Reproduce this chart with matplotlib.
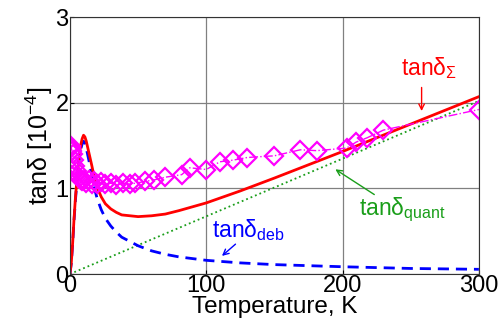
import numpy as np
import matplotlib
matplotlib.use("Agg")
import matplotlib.pyplot as plt

plt.rcParams['font.family'] = ['Liberation Sans', 'DejaVu Sans']
plt.rcParams['mathtext.fontset'] = 'custom'
plt.rcParams['mathtext.rm'] = 'Liberation Sans'
plt.rcParams['mathtext.it'] = 'Liberation Sans:italic'
plt.rcParams['mathtext.sf'] = 'Liberation Sans'

# ---------------- data ----------------
T_deb = [0, 1, 2, 3, 4, 5, 6, 7, 8, 9, 10, 11, 12, 14, 16, 18, 20, 23, 26, 30,
         34, 38, 44, 50, 60, 70, 80, 100, 125, 150, 200, 250, 300]
tan_deb = [0, 0.12, 0.35, 0.62, 0.85, 1.05, 1.22, 1.36, 1.46, 1.52, 1.55, 1.53, 1.47,
           1.32, 1.16, 1.0, 0.88, 0.75, 0.65, 0.56, 0.49, 0.43, 0.38, 0.33, 0.27,
           0.23, 0.2, 0.16, 0.13, 0.11, 0.085, 0.065, 0.055]

T_quant = [0, 300]
tan_quant = [0, 2.02]

T_sum = [0, 1, 2, 3, 4, 5, 6, 7, 8, 9, 10, 11, 12, 14, 16, 18, 20, 23, 26, 30,
         34, 38, 44, 50, 60, 70, 80, 100, 125, 150, 200, 250, 300]
tan_sum = [0, 0.13, 0.36, 0.64, 0.88, 1.08, 1.26, 1.41, 1.51, 1.58, 1.62, 1.6, 1.55,
           1.41, 1.27, 1.12, 1.01, 0.9, 0.82, 0.76, 0.72, 0.69, 0.68, 0.67, 0.68,
           0.7, 0.74, 0.83, 0.97, 1.12, 1.43, 1.75, 2.07]

T_meas = [0.5, 1, 1.5, 2, 3, 4, 5, 6, 7, 8, 9, 10, 12, 14, 16, 18, 20, 23, 26, 30,
          34, 39, 44, 48, 55, 62, 70, 82, 88, 100, 110, 120, 130, 150, 169, 181,
          203, 210, 218, 230, 300]
tan_meas = [1.5, 1.47, 1.44, 1.4, 1.33, 1.26, 1.2, 1.15, 1.12, 1.1, 1.08, 1.1, 1.06,
            1.1, 1.05, 1.08, 1.05, 1.07, 1.05, 1.06, 1.04, 1.06, 1.05, 1.06, 1.08,
            1.1, 1.13, 1.16, 1.24, 1.22, 1.31, 1.33, 1.36, 1.38, 1.45, 1.44,
            1.47, 1.54, 1.59, 1.68, 1.92]

x_ticks = [0, 100, 200, 300]
y_ticks = [0, 1, 2, 3]

# ---------------- plot ----------------
fig = plt.figure(figsize=(5.03, 3.27), dpi=100)
ax = fig.add_axes([0.139, 0.162, 0.813, 0.786])

ax.plot(T_quant, tan_quant, color='#1a9e1a', linestyle=':', linewidth=1.3)
ax.plot(T_deb, tan_deb, color='#0000ff', linestyle='--', linewidth=2, dashes=(4, 2.5))
ax.plot(T_sum, tan_sum, color='#ff0000', linewidth=2)
ax.plot(T_meas, tan_meas, color='#ff00ff', linestyle='-.', linewidth=1,
        marker='D', markersize=9.5, markerfacecolor='none', markeredgewidth=1.6)

ax.set_xlim(0, 300)
ax.set_ylim(0, 3)
ax.set_xticks(x_ticks)
ax.set_yticks(y_ticks)
ax.tick_params(labelsize=17, length=3, direction='in', pad=1)
ax.grid(True, color='#808080', linewidth=0.9)
for s in ax.spines.values():
    s.set_color('#333333')

ax.set_xlabel('Temperature, K', fontsize=17.5, labelpad=-1)
ax.set_ylabel(r'tanδ [10$^{-4}$]', fontsize=18, labelpad=0)

# annotations
ax.text(243, 2.32, r'tanδ$_{\Sigma}$', color='#ff0000', fontsize=16.5)
ax.annotate('', xy=(258, 1.87), xytext=(258, 2.21),
            arrowprops=dict(arrowstyle='->', color='#ff0000', lw=1))
ax.text(212, 0.69, r'tanδ$_{\rm quant}$', color='#1a9e1a', fontsize=16.5)
ax.annotate('', xy=(193, 1.24), xytext=(225, 0.91),
            arrowprops=dict(arrowstyle='->', color='#1a9e1a', lw=1))
ax.text(104, 0.43, r'tanδ$_{\rm deb}$', color='#0000ff', fontsize=16.5)
ax.annotate('', xy=(110, 0.19), xytext=(123, 0.37),
            arrowprops=dict(arrowstyle='->', color='#0000ff', lw=1))

fig.savefig('out.png', dpi=100)
